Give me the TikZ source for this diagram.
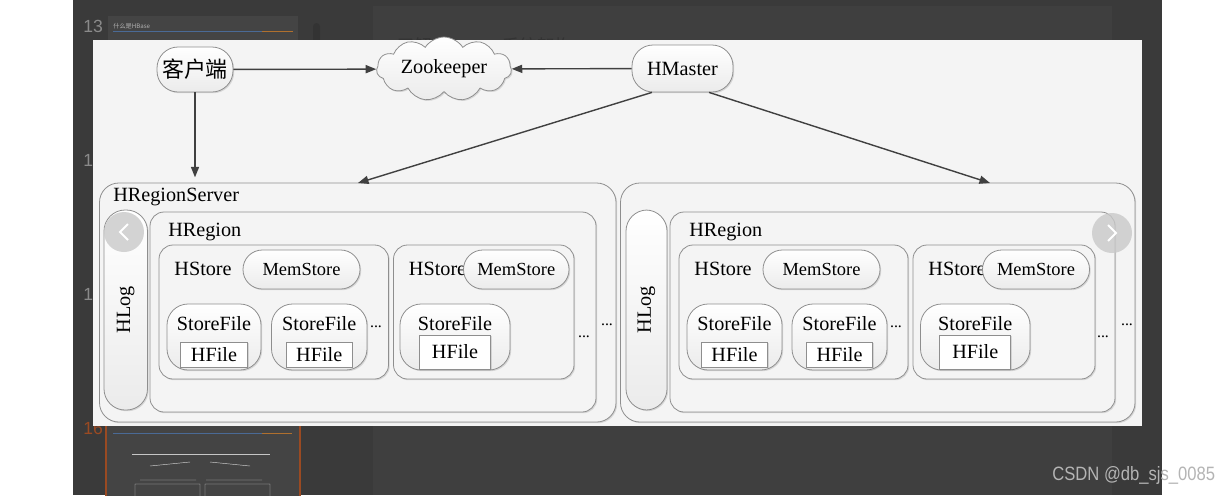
\documentclass[tikz,border=0pt]{standalone}
\usepackage{fontspec}
\setmainfont{Liberation Serif}
\newfontfamily\cjk{Noto Sans CJK SC}
\newfontfamily\uisans{Liberation Sans}
\usepackage{xcolor}
\usepackage{tikz}
\usetikzlibrary{positioning}
\usetikzlibrary{calc}
\usetikzlibrary{fit}
\usetikzlibrary{shapes.symbols}
\usetikzlibrary{shadows}
\usetikzlibrary{arrows.meta}

\definecolor{bgdark}{HTML}{3A3A3A}
\definecolor{pagedark}{HTML}{3F3F3F}
\definecolor{thumbc}{HTML}{444444}
\definecolor{panelbg}{HTML}{F4F4F4}
\definecolor{boxline}{HTML}{8E8E8E}
\definecolor{pillbot}{HTML}{EBEBEB}
\definecolor{arrowc}{HTML}{404040}
\definecolor{navgray}{HTML}{C9C9C9}
\definecolor{pnum}{HTML}{8A8A8A}
\definecolor{pnumsel}{HTML}{9A4A22}
\definecolor{wmgray}{HTML}{B4B4B4}
\definecolor{lineblue}{HTML}{4A6A96}
\definecolor{lineorange}{HTML}{B0702E}

\newcommand\dgfont{\fontsize{11.5}{13}\selectfont}

\begin{document}
\begin{tikzpicture}[x=0.02cm,y=-0.02cm,
    every node/.style={inner sep=0pt,text=black},
    shd/.style={drop shadow={shadow xshift=0.7pt,shadow yshift=-0.7pt,opacity=0.25}},
    cbox/.style={draw=boxline,line width=0.45pt,fill=panelbg,shd,fit={#1}},
    pillbox/.style={draw=boxline,line width=0.45pt,top color=white,bottom color=pillbot,shd,fit={#1}},
    hfbox/.style={draw=boxline,line width=0.45pt,fill=white,shd,font=\dgfont},
    arr/.style={draw=arrowc,line width=0.8pt,-{Triangle[length=6pt,width=4.6pt]}},
    lbl/.style={font=\dgfont,anchor=west},
    dots/.style={font=\fontsize{9}{10}\selectfont}]

\useasboundingbox (0,0) rectangle (1230,495);

% viewer behind the picture
\fill[white] (0,0) rectangle (1230,495);
\fill[bgdark] (73,0) rectangle (1162,495);
\fill[pagedark] (373,6) rectangle (1112,495);
\fill[thumbc] (108,16) rectangle (298,45);
\draw[lineblue,line width=0.5pt] (113,31) -- (262,31);
\draw[lineorange,line width=0.5pt] (262,31) -- (293,31);
\node[anchor=west,text=gray!60,font=\cjk\fontsize{3.5}{4}\selectfont] (thumbtitle) at (113,26) {什么是HBase};
\fill[black!80,rounded corners=2pt] (313,23) rectangle (320,45);
\node[anchor=west,text=pnum,font=\uisans\fontsize{10}{12}\selectfont] (pg13) at (83,26) {13};
\node[anchor=west,text=pnum,font=\uisans\fontsize{10}{12}\selectfont] (pg14) at (83,160) {14};
\node[anchor=west,text=pnum,font=\uisans\fontsize{10}{12}\selectfont] (pg15) at (83,295) {15};
\node[anchor=west,text=pnumsel,font=\uisans\fontsize{10}{12}\selectfont] (pg16) at (83,428) {16};
\draw[pnumsel,line width=1.2pt,fill=thumbc] (106,415) rectangle (300,500);
\draw[lineblue,line width=0.5pt] (113,433) -- (262,433);
\draw[lineorange,line width=0.5pt] (262,433) -- (292,433);
\draw[gray!45,line width=0.4pt] (132,454) -- (270,454);
\draw[gray!35,line width=0.25pt] (150,466) -- (190,462) (210,462) -- (250,466) (140,480) -- (196,480) (206,480) -- (262,480) (135,484) rectangle (200,500) (205,484) rectangle (270,500);
\node[anchor=west,text=black!80,font=\cjk\fontsize{10}{12}\selectfont] (pagetitle) at (397,46) {了解HBase\quad 系统架构};

% picture
\fill[panelbg] (92.5,39.5) rectangle (1141.5,426);

\node[pillbox={(157,47) (233,92)},rounded corners=12pt,label={[font=\cjk\fontsize{12.5}{14}\selectfont]center:客户端}] (client) {};
\node[cloud,cloud puffs=11,cloud puff arc=115,aspect=2.6,minimum width=2.7cm,minimum height=1.02cm,
      draw=boxline,line width=0.45pt,top color=white,bottom color=pillbot,shd,font=\dgfont] (zk) at (444,69) {Zookeeper};
\node[pillbox={(632,45) (733,92)},rounded corners=12pt,label={[font=\dgfont]center:HMaster}] (hmaster) {};

% region servers
\node[cbox={(99.5,183) (616,422)},rounded corners=11pt] (srv1) {};
\node[cbox={(620.5,183) (1135,422)},rounded corners=11pt] (srv2) {};
\node[lbl] (srv1lbl) at (113,197) {HRegionServer};

\node[pillbox={(104,210) (147.5,410)},rounded corners=12pt,label={[rotate=90,font=\dgfont]center:HLog}] (hlog1) {};
\node[pillbox={(626,210) (667,410)},rounded corners=12pt,label={[rotate=90,font=\dgfont]center:HLog}] (hlog2) {};

\node[cbox={(150,212) (596,412)},rounded corners=8pt] (reg1) {};
\node[cbox={(670,212) (1115,412)},rounded corners=8pt] (reg2) {};
\node[lbl] (reg1lbl) at (168,232) {HRegion};
\node[lbl] (reg2lbl) at (689,232) {HRegion};

% stores
\foreach \n/\xa/\xb/\xm/\xn in {a/159/388.5/243/360, b/393.5/574/463.5/569, c/679/908/763/880, d/913/1095/982.5/1089.5}{
  \node[cbox={(\xa,245) (\xb,379)},rounded corners=8pt] (st\n) {};
  \node[lbl] (st\n lbl) at ($(st\n.west)+(15.5,-43)$) {HStore};
  \node[pillbox={(\xm,250) (\xn,289)},rounded corners=11pt,label={[font=\fontsize{10.5}{12}\selectfont]center:MemStore}] (mem\n) {};
}

% store files
\foreach \n/\xa/\xb/\hw/\hh/\hy in {a/167/261/1.34/0.5/354.5, b/271.5/367/1.32/0.5/354.5, c/400/510/1.42/0.68/352,
                                  d/687/782/1.32/0.5/354.5, e/792/887/1.32/0.5/354.5, f/920.5/1030/1.42/0.68/352}{
  \node[pillbox={(\xa,304) (\xb,370)},rounded corners=12pt] (sf\n) {};
  \node[font=\dgfont] (sf\n lbl) at ($(sf\n.north)+(0,20)$) {StoreFile};
  \node[hfbox,minimum width=\hw cm,minimum height=\hh cm] (hf\n) at (sf\n.center |- 0,\hy) {HFile};
}

\node[dots] (dots1) at (376,327) {...};
\node[dots] (dots2) at (584,337) {...};
\node[dots] (dots3) at (607,325) {...};
\node[dots] (dots4) at (896,327) {...};
\node[dots] (dots5) at (1103,337) {...};
\node[dots] (dots6) at (1127,325) {...};

% connectors
\coordinate (srv1top) at (358,183);
\coordinate (srv2top) at (990,183);
\draw[arr] (client) -- (zk);
\draw[arr] (hmaster) -- (zk);
\draw[arr,shorten >=3pt] (client) -- (client |- srv1.north);
\draw[arr] (hmaster.218) -- (srv1top);
\draw[arr] (hmaster.318) -- (srv2top);

% viewer buttons and mark
\fill[navgray,opacity=0.8] (124,232) circle [radius=0.4cm];
\draw[white,line width=1.1pt] (128,224) -- (120,232) -- (128,240);
\fill[navgray,opacity=0.8] (1112,233) circle [radius=0.4cm];
\draw[white,line width=1.1pt] (1108,225) -- (1116,233) -- (1108,241);
\node[anchor=west,text=wmgray,font=\uisans\fontsize{11}{13}\selectfont,xscale=0.86] (wm) at (1052,475) {CSDN @db\_sjs\_0085};
\end{tikzpicture}
\end{document}
